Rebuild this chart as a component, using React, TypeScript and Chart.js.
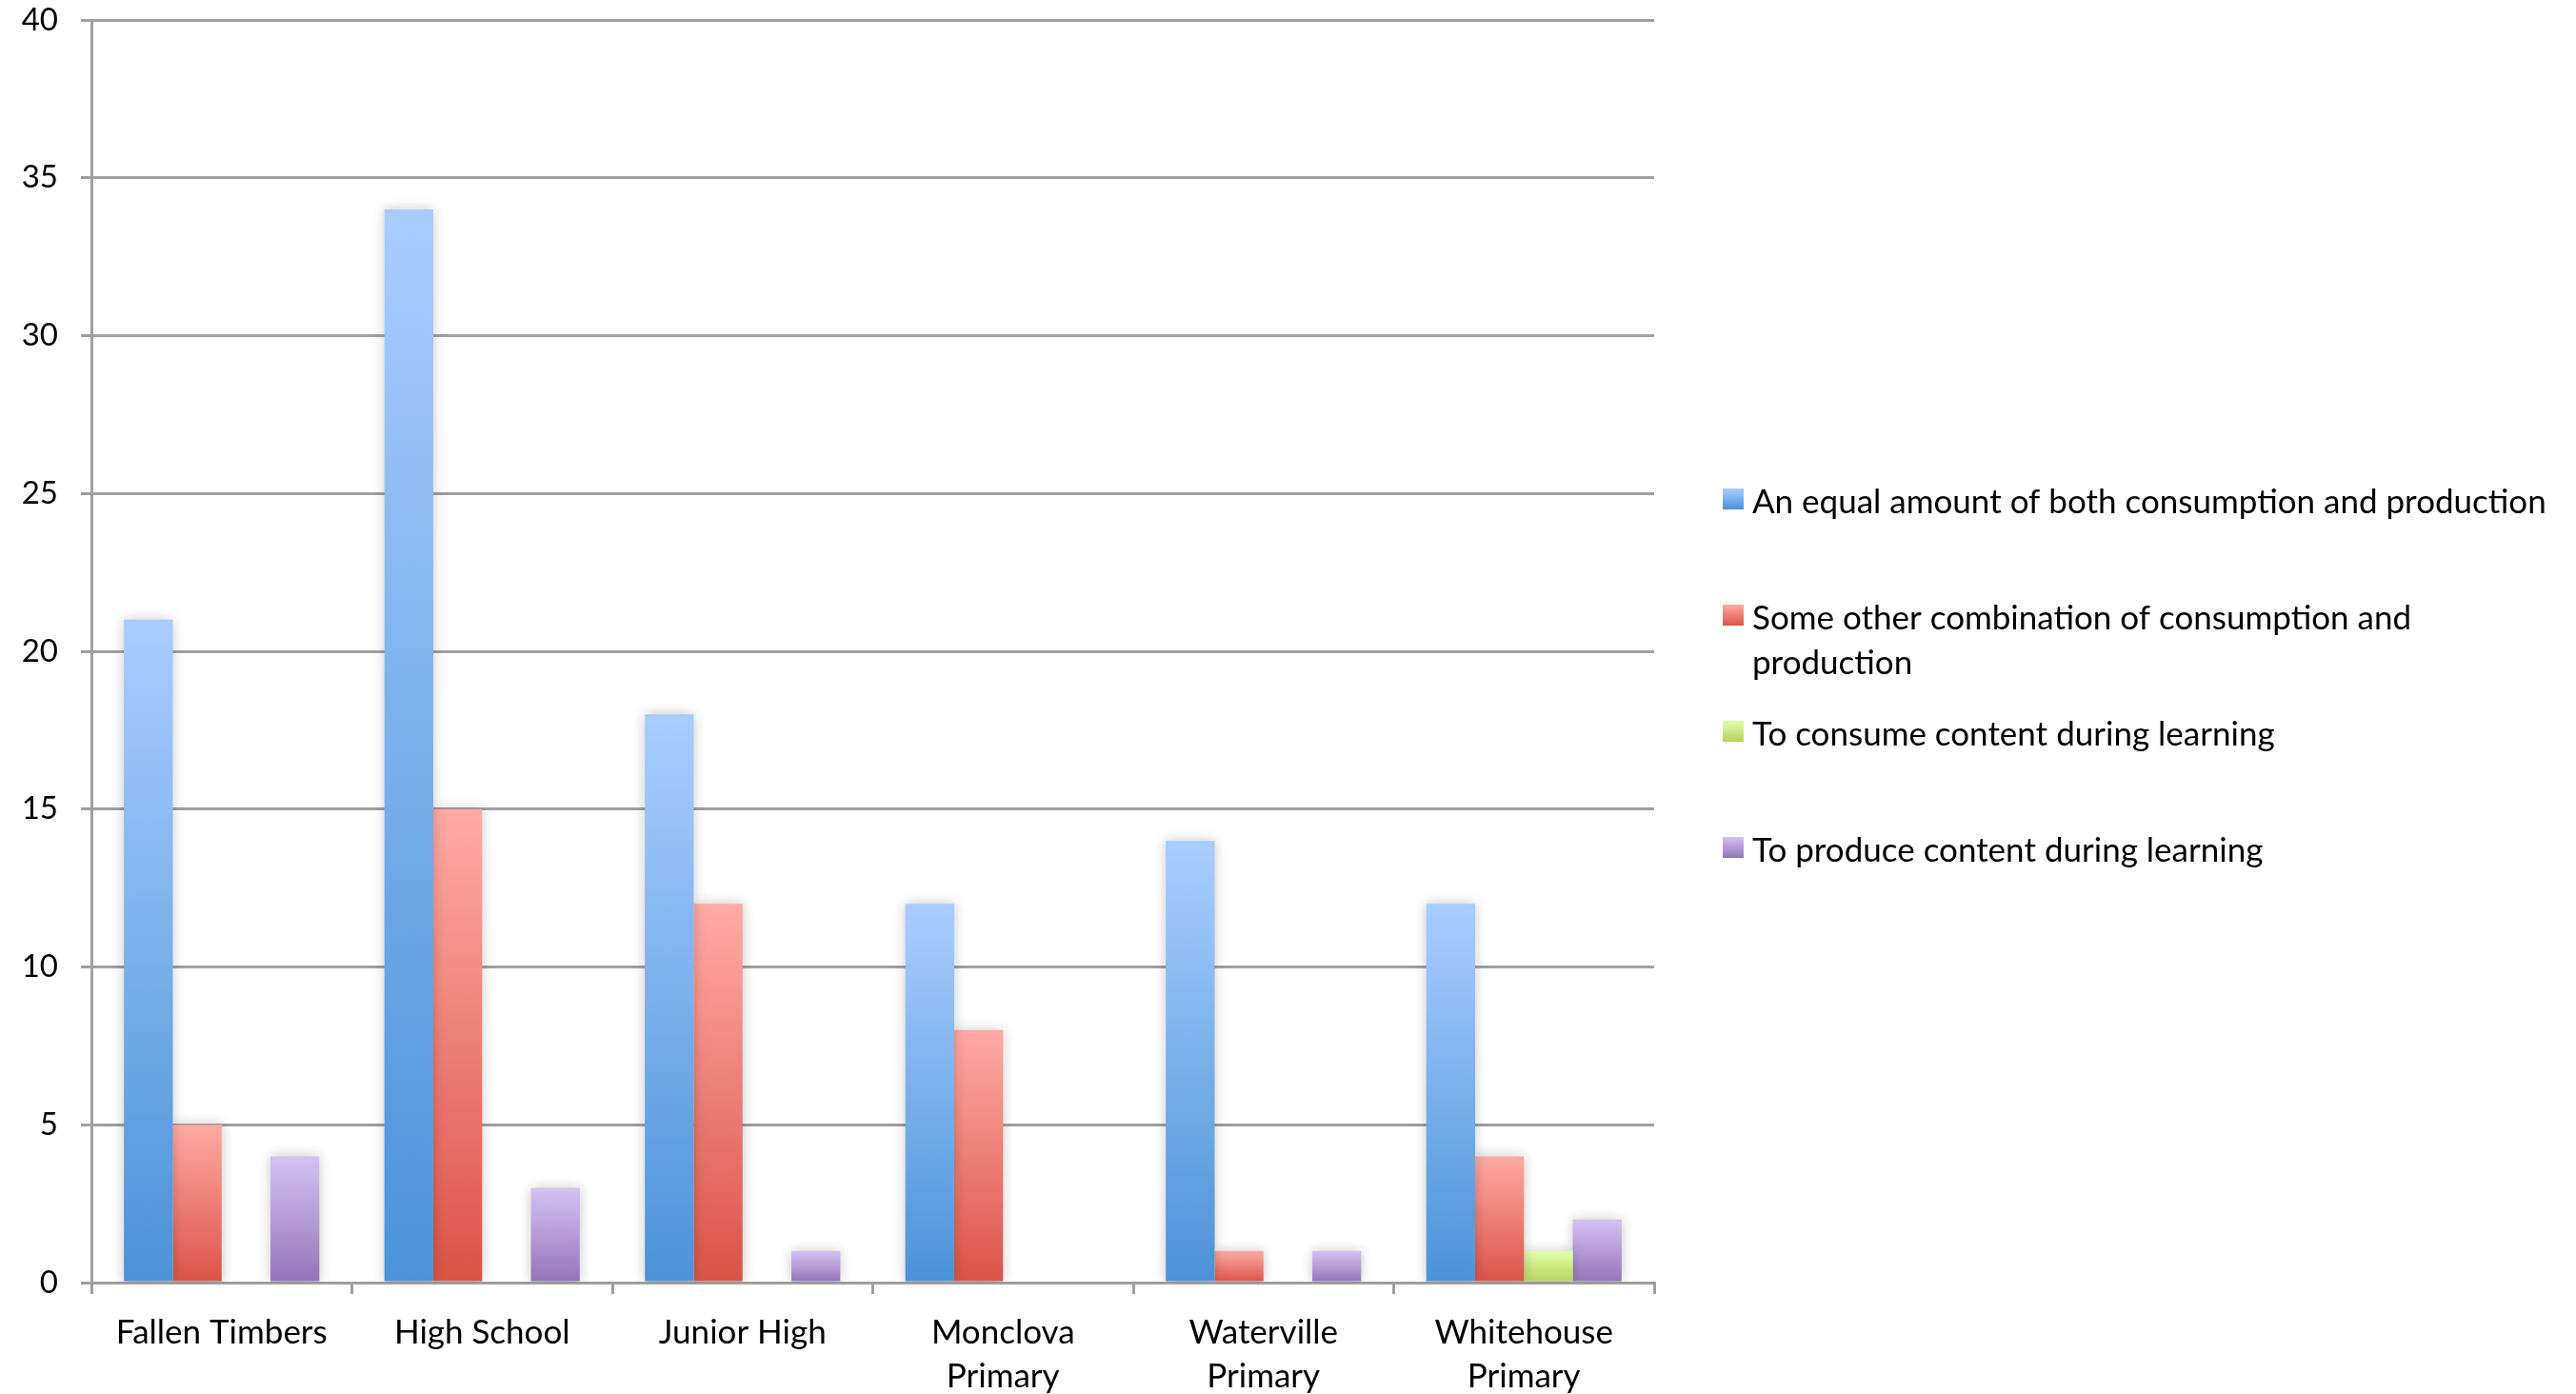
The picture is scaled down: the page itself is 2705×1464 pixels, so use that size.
import React, { useEffect, useRef } from "react";
import { Chart, registerables } from "chart.js";

Chart.register(...registerables);

// ---- data ----
const categories: string[][] = [
  ["Fallen Timbers"],
  ["High School"],
  ["Junior High"],
  ["Monclova", "Primary"],
  ["Waterville", "Primary"],
  ["Whitehouse", "Primary"],
];
const seriesNames = [
  "An equal amount of both consumption and production",
  "Some other combination of consumption and production",
  "To consume content during learning",
  "To produce content during learning",
];
const equalAmount = [21, 34, 18, 12, 14, 12];
const otherCombination = [5, 15, 12, 8, 1, 4];
const consumeContent = [0, 0, 0, 0, 0, 1];
const produceContent = [4, 3, 1, 0, 1, 2];
const yMin = 0;
const yMax = 40;
const yStep = 5;

// ---- styles ----
const gradientTops = ["#a9cdff", "#ffaaa5", "#e2ffab", "#d4c3f2"];
const gradientBottoms = ["#4b92d7", "#db5347", "#b4d45b", "#9473ba"];
const FONT = "Lato";
const W = 2705;
const H = 1464;

function barGradient(ctx: any, i: number) {
  const chart = ctx.chart;
  const fallback = gradientBottoms[i];
  if (!chart.chartArea || ctx.raw === undefined) return fallback;
  const y = chart.scales.y;
  const top = y.getPixelForValue(ctx.raw);
  const bottom = y.getPixelForValue(0);
  if (!isFinite(top) || !isFinite(bottom) || top === bottom) return fallback;
  const g = chart.ctx.createLinearGradient(0, top, 0, bottom);
  g.addColorStop(0, gradientTops[i]);
  g.addColorStop(1, gradientBottoms[i]);
  return g;
}

const shadowPlugin = {
  id: "barShadow",
  beforeDatasetsDraw(chart: any) {
    const c = chart.ctx;
    c.save();
    c.shadowColor = "rgba(0,0,0,0.22)";
    c.shadowBlur = 12;
    c.shadowOffsetX = 0;
    c.shadowOffsetY = 0;
  },
  afterDatasetsDraw(chart: any) {
    chart.ctx.restore();
  },
};

const legendPlugin = {
  id: "customLegend",
  afterDraw(chart: any) {
    const c = chart.ctx;
    const markerX = 1809;
    const textX = 1840;
    const firstTop = 513;
    const spacing = 122;
    const size = 22;
    const lineGap = 47;
    const maxWidth = W - textX - 6;
    c.save();
    c.font = `35px ${FONT}`;
    c.textBaseline = "alphabetic";
    c.textAlign = "left";
    chart.data.datasets.forEach((ds: any, i: number) => {
      const top = firstTop + i * spacing;
      const g = c.createLinearGradient(0, top, 0, top + size);
      g.addColorStop(0, gradientTops[i]);
      g.addColorStop(1, gradientBottoms[i]);
      c.fillStyle = g;
      c.fillRect(markerX, top, size, size);
      const words = String(ds.label).split(" ");
      const lines: string[] = [];
      let cur = "";
      for (const w of words) {
        const t = cur ? cur + " " + w : w;
        if (c.measureText(t).width > maxWidth && cur) {
          lines.push(cur);
          cur = w;
        } else cur = t;
      }
      if (cur) lines.push(cur);
      c.fillStyle = "#000";
      lines.forEach((ln, k) => {
        c.fillText(ln, textX, top + 26 + k * lineGap);
      });
    });
    c.restore();
  },
};

export default function App() {
  const ref = useRef<HTMLCanvasElement | null>(null);
  useEffect(() => {
    if (!ref.current) return;
    const series = [equalAmount, otherCombination, consumeContent, produceContent];
    const chart = new Chart(ref.current, {
      type: "bar",
      data: {
        labels: categories,
        datasets: series.map((d, i) => ({
          label: seriesNames[i],
          data: d,
          backgroundColor: (ctx: any) => barGradient(ctx, i),
          borderWidth: 0,
          categoryPercentage: 0.75,
          barPercentage: 1,
        })),
      },
      options: {
        animation: false,
        responsive: true,
        maintainAspectRatio: false,
        devicePixelRatio: 1,
        layout: { padding: { top: 0, right: W - 1737, left: 0, bottom: 0 } },
        plugins: {
          legend: { display: false },
          tooltip: { enabled: false },
          title: { display: false },
        },
        scales: {
          x: {
            grid: {
              display: true,
              drawOnChartArea: false,
              drawTicks: true,
              tickLength: 12,
              color: "#a0a0a0",
              lineWidth: 3,
              offset: true,
            },
            border: { display: true, color: "#a0a0a0", width: 3 },
            ticks: {
              color: "#000",
              font: { family: FONT, size: 35, lineHeight: 1.33 },
              padding: 17,
              maxRotation: 0,
              autoSkip: false,
            },
            afterFit: (scale: any) => {
              scale.height = H - 1347;
            },
          },
          y: {
            min: yMin,
            max: yMax,
            grid: {
              color: "#a0a0a0",
              lineWidth: 3,
              tickLength: 11,
              drawTicks: true,
            },
            border: { display: true, color: "#a0a0a0", width: 3 },
            ticks: {
              stepSize: yStep,
              color: "#000",
              font: { family: FONT, size: 33 },
              padding: 24,
            },
            afterFit: (scale: any) => {
              scale.width = 96;
              scale.paddingTop = 21;
              scale.paddingBottom = 0;
            },
          },
        },
      },
      plugins: [shadowPlugin, legendPlugin],
    });
    return () => chart.destroy();
  }, []);
  return (
    <div style={{ position: "fixed", left: 0, top: 0, width: W, height: H, background: "#fff" }}>
      <canvas ref={ref} />
    </div>
  );
}
